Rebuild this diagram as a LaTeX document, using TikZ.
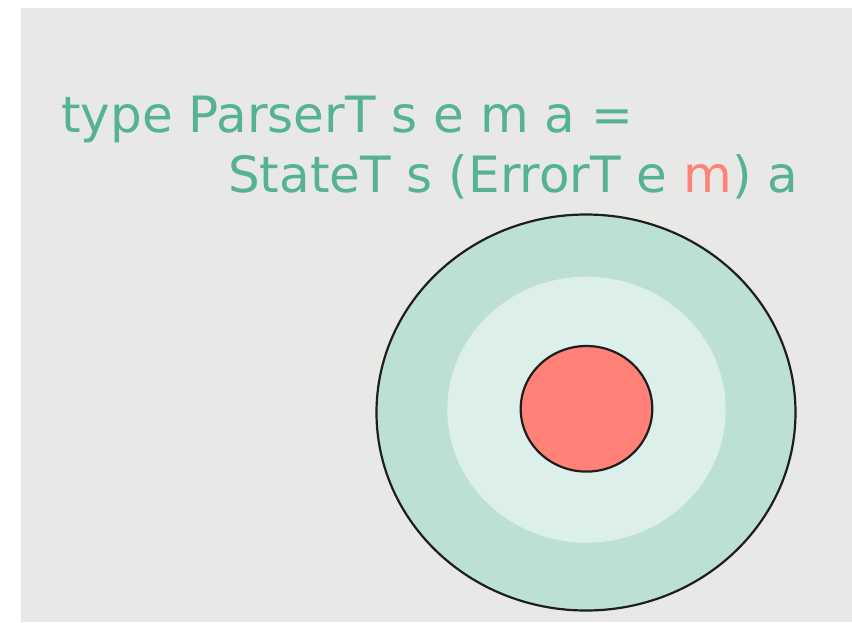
\documentclass[tikz,border=0pt]{standalone}
\usepackage{fontspec}
\setmainfont{DejaVu Sans}
\definecolor{bgGrey}{HTML}{E8E8E6}
\definecolor{codeGreen}{HTML}{55B394}
\definecolor{monadRed}{HTML}{FF8177}
\definecolor{outerRing}{HTML}{BCE0D6}
\definecolor{innerRing}{HTML}{DCEFEB}
\definecolor{rimBlack}{HTML}{1E1E1A}
\tikzset{codeline/.style={anchor=base west, inner sep=0pt, text=codeGreen, font=\fontsize{50}{60}\selectfont}}
\begin{document}
\begin{tikzpicture}[x=1pt, y=-1pt, line join=round, line cap=round]
    \useasboundingbox (0,0) rectangle (852,622);
    \fill[bgGrey] (21,8) rectangle (852,622);
			\node[codeline] (typeline) at (61,132) {type ParserT s e m a =};
			\node[codeline] (stateline) at (228,192) {StateT s (ErrorT e \textcolor{monadRed}{m}) a};
			% layers: StateT, ErrorT, m
			\filldraw[fill=outerRing, draw=rimBlack, line width=2.2pt] (586,412.5) ellipse (209.5 and 198);
			\fill[innerRing] (586.5,409.7) ellipse (139.2 and 133);
			\filldraw[fill=monadRed, draw=rimBlack, line width=2.2pt] (586.5,408.8) ellipse (65.8 and 62.8);
    \end{tikzpicture}
\end{document}
